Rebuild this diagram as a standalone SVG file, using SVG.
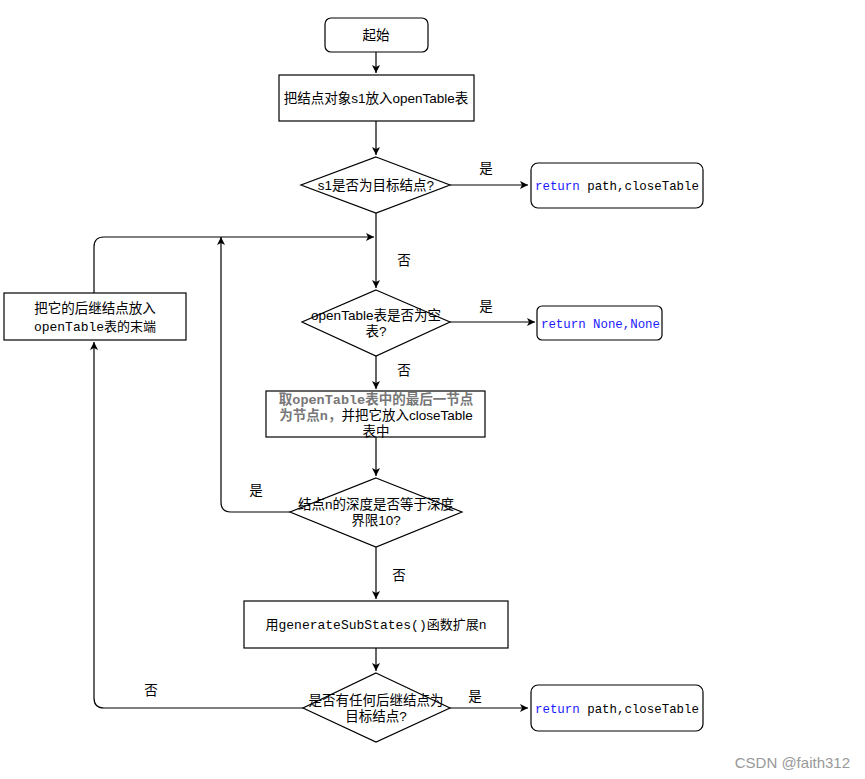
<svg xmlns="http://www.w3.org/2000/svg" width="865" height="779" viewBox="0 0 865 779">
<defs>
<marker id="ah" markerWidth="10" markerHeight="10" refX="9" refY="5" orient="auto" markerUnits="userSpaceOnUse">
<path d="M1,1 L9,5 L1,9 L3,5 Z" fill="#000"/>
</marker>
<style>
.n{fill:#fff;stroke:#000;stroke-width:1.2}
.t{font-family:"Liberation Sans","Noto Sans CJK SC",sans-serif;font-size:13.5px;fill:#000;text-anchor:middle}
.m{font-family:"Liberation Mono","Noto Sans CJK SC",monospace;font-size:13px;fill:#000}
.c{fill:none;stroke:#000;stroke-width:1.2}
.kw{fill:#1a1aff}
.g{fill:#777;font-weight:bold}
</style>
</defs>
<rect width="865" height="779" fill="#fff"/>
<g id="connectors">
<path class="c" d="M376,52 V73" marker-end="url(#ah)"/>
<path class="c" d="M376,121 V155" marker-end="url(#ah)"/>
<path class="c" d="M450,185 H528" marker-end="url(#ah)"/>
<path class="c" d="M376,213 V288" marker-end="url(#ah)"/>
<path class="c" d="M450,322 H535" marker-end="url(#ah)"/>
<path class="c" d="M376,356 V389" marker-end="url(#ah)"/>
<path class="c" d="M376,437 V476" marker-end="url(#ah)"/>
<path class="c" d="M290,512 H231 Q221,512 221,502 V237" marker-end="url(#ah)"/>
<path class="c" d="M376,547 V599" marker-end="url(#ah)"/>
<path class="c" d="M376,648 V671" marker-end="url(#ah)"/>
<path class="c" d="M450,708 H528" marker-end="url(#ah)"/>
<path class="c" d="M303,708 H104 Q94,708 94,698 V342" marker-end="url(#ah)"/>
<path class="c" d="M94,293 V247 Q94,237 104,237 H374" marker-end="url(#ah)"/>
<text class="t" x="486" y="173">是</text>
<text class="t" x="404" y="265">否</text>
<text class="t" x="486" y="311">是</text>
<text class="t" x="404" y="375">否</text>
<text class="t" x="256" y="495">是</text>
<text class="t" x="399" y="580">否</text>
<text class="t" x="475" y="701">是</text>
<text class="t" x="151" y="695">否</text>
</g>
<g id="start">
<rect class="n" x="325" y="18" width="103" height="34" rx="6"/>
<text class="t" x="376" y="40">起始</text>
</g>
<g id="put-s1">
<rect class="n" x="279" y="75" width="195" height="46"/>
<text class="t" x="376" y="103">把结点对象s1放入openTable表</text>
</g>
<g id="is-goal">
<polygon class="n" points="376,157 450,185 376,213 301,185"/>
<text class="t" x="376" y="190">s1是否为目标结点?</text>
</g>
<g id="ret1">
<rect class="n" x="531" y="163" width="172" height="45" rx="7"/>
<text class="m" x="535" y="190" textLength="164" lengthAdjust="spacingAndGlyphs"><tspan class="kw">return</tspan> path,closeTable</text>
</g>
<g id="is-empty">
<polygon class="n" points="376,290 450,322 376,356 302,322"/>
<text class="t" x="376" y="320">openTable表是否为空</text>
<text class="t" x="376" y="336">表?</text>
</g>
<g id="ret-none">
<rect class="n" x="537" y="306" width="125" height="34" rx="5"/>
<text class="m" x="541" y="328" textLength="119" lengthAdjust="spacingAndGlyphs"><tspan class="kw">return None,None</tspan></text>
</g>
<g id="take-last">
<rect class="n" x="266" y="391" width="219" height="46"/>
<text class="t" x="376" y="404"><tspan class="g">取</tspan><tspan class="g" font-family="Liberation Mono" font-weight="normal">openTable</tspan><tspan class="g">表中的最后一节点</tspan></text>
<text class="t" x="376" y="420"><tspan class="g">为节点</tspan><tspan class="g" font-family="Liberation Mono" font-weight="normal">n</tspan><tspan class="g">，</tspan>并把它放入closeTable</text>
<text class="t" x="376" y="436">表中</text>
</g>
<g id="depth">
<polygon class="n" points="376,478 462,512 376,547 290,512"/>
<text class="t" x="376" y="509">结点n的深度是否等于深度</text>
<text class="t" x="376" y="525">界限10?</text>
</g>
<g id="expand">
<rect class="n" x="244" y="601" width="264" height="47"/>
<text class="m" x="376" y="629" text-anchor="middle">用generateSubStates()函数扩展n</text>
</g>
<g id="any-goal">
<polygon class="n" points="376,673 450,708 376,742 303,708"/>
<text class="t" x="376" y="705">是否有任何后继结点为</text>
<text class="t" x="376" y="721">目标结点?</text>
</g>
<g id="ret2">
<rect class="n" x="531" y="685" width="172" height="46" rx="7"/>
<text class="m" x="535" y="713" textLength="164" lengthAdjust="spacingAndGlyphs"><tspan class="kw">return</tspan> path,closeTable</text>
</g>
<g id="append">
<rect class="n" x="4" y="293" width="182" height="47"/>
<text class="t" x="95" y="313">把它的后继结点放入</text>
<text class="m" x="95" y="331" text-anchor="middle">openTable表的末端</text>
</g>
<text x="850" y="768" text-anchor="end" font-family="Liberation Sans, Noto Sans CJK SC, sans-serif" font-size="15" fill="#999">CSDN @faith312</text>
</svg>
